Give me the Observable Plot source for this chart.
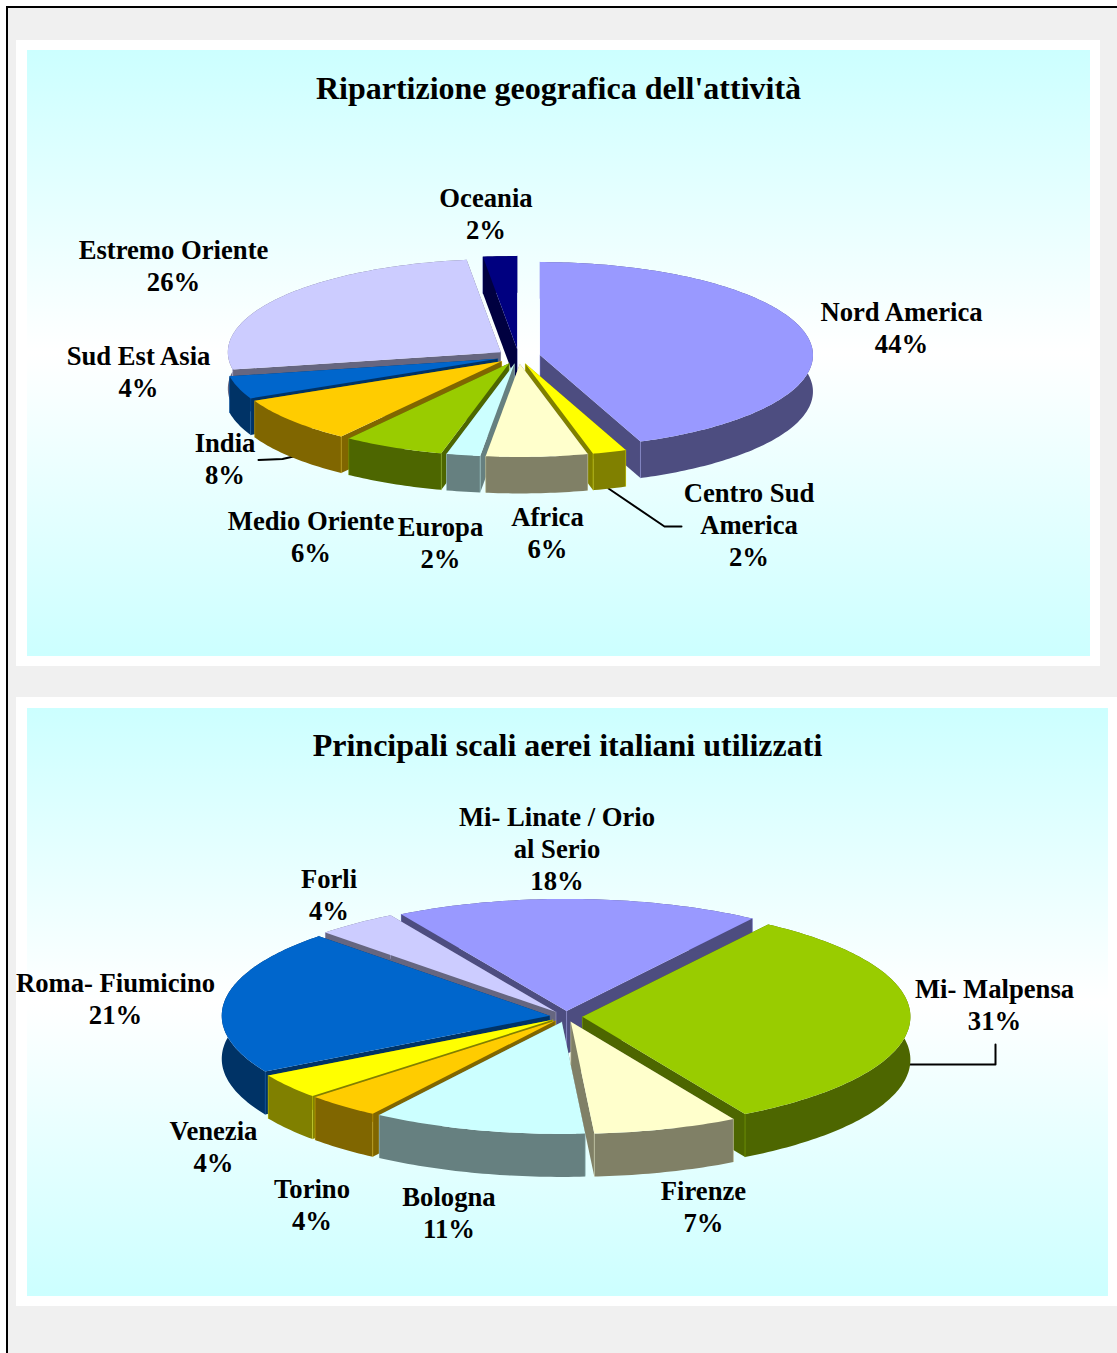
<!DOCTYPE html>
<html lang="it">
<head>
<meta charset="utf-8">
<title>Ripartizione geografica e scali aerei</title>
<script src="https://cdn.jsdelivr.net/npm/d3@7"></script>
<script src="https://cdn.jsdelivr.net/npm/@observablehq/plot@0.6"></script>
<style>
  html, body { margin: 0; padding: 0; background: #fff; overflow: hidden; }
  svg { display: block; }
</style>
</head>
<body>
<script>
// Shares in percent, clockwise around each pie.
const geoLabels = ["Nord America", "Centro Sud\nAmerica", "Africa", "Europa", "Medio Oriente", "India", "Sud Est Asia", "Estremo Oriente", "Oceania"];
const geoShares = [44, 2, 6, 2, 6, 8, 4, 26, 2];
const geoColors = ["#9999ff", "#ffff00", "#ffffcc", "#ccffff", "#99cc00", "#ffcc00", "#0066cc", "#ccccff", "#000080"];

const airportLabels = ["Mi- Linate / Orio\nal Serio", "Mi- Malpensa", "Firenze", "Bologna", "Torino", "Venezia", "Roma- Fiumicino", "Forli"];
const airportShares = [18, 31, 7, 11, 4, 4, 21, 4];
const airportColors = ["#9999ff", "#99cc00", "#ffffcc", "#ccffff", "#ffcc00", "#ffff00", "#0066cc", "#ccccff"];

// Page furniture.
const FONT = "Liberation Serif";
const LABEL_SIZE = 26.67;
const TITLE_SIZE = 32;
const frame = [{x1: 6, y1: 6, x2: 1117, y2: 1353}];
const sheet = [{x1: 8, y1: 8, x2: 1117, y2: 1353}];
const panels = [{x1: 16, y1: 40, x2: 1100, y2: 666}, {x1: 16, y1: 697, x2: 1117, y2: 1306}];
const titles = [
  {text: "Ripartizione geografica dell'attività", x: 558, y: 88},
  {text: "Principali scali aerei italiani utilizzati", x: 567, y: 745}
];

// Projection of each pie: ellipse, extrusion depth, explosion, the way the tilted
// view stretches angles towards the front, and the back-to-front painting order.
const geoLayout = {
  inner: {x1: 27, y1: 50, x2: 1090, y2: 656}, gradient: "sky1",
  cx: 518, cy: 356, rx: 273, ry: 93, depth: 36.5, explode: 0.08, start: 0,
  bend: {amount: 0, from: 0, to: 360},
  order: [8, 7, 6, 5, 4, 3, 0, 1, 2],
  labelAt: [[901, 326], [748.5, 523], [547, 531], [440, 541], [310.5, 535], [224.5, 457.5], [138, 370], [173, 264], [485.5, 212]]
};
const airportLayout = {
  inner: {x1: 27, y1: 708, x2: 1108, y2: 1296}, gradient: "sky2",
  cx: 565.5, cy: 1016, rx: 328, ry: 112, depth: 43, explode: 0.05, start: -30.3,
  bend: {amount: 4.6, from: 90, to: 245},
  order: [0, 7, 6, 5, 4, 3, 1, 2],
  labelAt: [[556.5, 847], [994, 1003.5], [703, 1205], [448.5, 1211], [311.5, 1203], [213, 1145], [115, 997], [328.5, 893]]
};

// Leader lines from a label to its slice.
const leaders = [
  [[258, 459.5], [282, 458.5], [293, 456]],
  [[608, 488], [664, 526], [681, 526]],
  [[908, 1064], [995, 1064], [995, 1044]]
];

const rad = (deg) => deg * Math.PI / 180;

// Apparent angle of a pie angle in the tilted view.
function viewAngle(layout, deg) {
  const {amount, from, to} = layout.bend;
  const t = (deg - from) / (to - from);
  return t > 0 && t < 1 ? deg + amount * Math.sin(Math.PI * t) : deg;
}

// Builds the faces of one exploded slice in the page's coordinates.
function sliceFaces(layout, a0, a1) {
  const {cx, cy, rx, ry, depth, explode} = layout;
  const mid = rad((a0 + a1) / 2);
  const ax = cx + explode * rx * Math.sin(mid);
  const ay = cy - explode * ry * Math.cos(mid);
  const rim = (deg, drop = 0) => ({x: ax + rx * Math.sin(rad(deg)), y: ay - ry * Math.cos(rad(deg)) + drop});
  const steps = d3.range(a0, a1, 1).concat(a1);
  const arc = steps.map((d) => rim(d));
  const apex = {x: ax, y: ay};
  const apexLow = {x: ax, y: ay + depth};
  const closed = (pts) => pts.concat(pts[0]);
  return {
    cuts: [
      closed([apex, rim(a0), rim(a0, depth), apexLow]),
      closed([apex, rim(a1), rim(a1, depth), apexLow])
    ],
    wall: closed(arc.concat(steps.slice().reverse().map((d) => rim(d, depth)))),
    corners: [[rim(a0), rim(a0, depth)], [rim(a1), rim(a1, depth)], [apex, apexLow]],
    top: closed([apex, ...arc])
  };
}

// Half-intensity shade used for the sides of a slice.
function shade(color) {
  const c = d3.rgb(color);
  return d3.rgb(c.r / 2, c.g / 2, c.b / 2).formatHex();
}

// Marks for a whole pie, painted from the back slice to the front one.
function pieMarks(layout, shares, colors) {
  const total = d3.sum(shares);
  const edges = d3.cumsum(shares).map((d) => viewAngle(layout, layout.start + d / total * 360));
  const marks = [];
  const face = (pts, fill) => Plot.line(pts, {x: "x", y: "y", fill, stroke: "none"});
  for (const i of layout.order) {
    const a0 = i === 0 ? layout.start : edges[i - 1];
    const faces = sliceFaces(layout, a0, edges[i]);
    const side = shade(colors[i]);
    for (const cut of faces.cuts) marks.push(face(cut, side));
    marks.push(face(faces.wall, side));
    for (const corner of faces.corners) {
      marks.push(Plot.line(corner, {x: "x", y: "y", stroke: colors[i], strokeOpacity: 0.45, strokeWidth: 0.8}));
    }
    marks.push(face(faces.top, colors[i]));
  }
  return marks;
}

function labelMarks(layout, labels, shares) {
  const rows = labels.map((label, i) => ({
    text: `${label}\n${shares[i]}%`,
    x: layout.labelAt[i][0],
    y: layout.labelAt[i][1]
  }));
  return Plot.text(rows, {
    x: "x", y: "y", text: "text", fill: "#000", fontFamily: FONT, fontWeight: "bold",
    fontSize: LABEL_SIZE, lineHeight: 32 / LABEL_SIZE, textAnchor: "middle", lineAnchor: "middle"
  });
}

// Vertical cyan-white-cyan wash behind each pie.
function gradientDefs() {
  const defs = d3.create("svg:defs");
  for (const id of ["sky1", "sky2"]) {
    const g = defs.append("linearGradient").attr("id", id)
      .attr("x1", 0).attr("y1", 0).attr("x2", 0).attr("y2", 1);
    g.append("stop").attr("offset", "0%").attr("stop-color", "#ccffff");
    g.append("stop").attr("offset", "50%").attr("stop-color", "#ffffff");
    g.append("stop").attr("offset", "100%").attr("stop-color", "#ccffff");
  }
  return defs.node();
}

const box = {x1: "x1", y1: "y1", x2: "x2", y2: "y2"};

const chart = Plot.plot({
  width: 1117,
  height: 1353,
  margin: 0,
  x: {domain: [0, 1117], axis: null},
  y: {domain: [1353, 0], axis: null},
  style: {background: "#fff"},
  marks: [
    gradientDefs,
    Plot.rect(frame, {...box, fill: "#000"}),
    Plot.rect(sheet, {...box, fill: "#f0f0f0"}),
    Plot.rect(panels, {...box, fill: "#fff"}),
    Plot.rect([geoLayout.inner], {...box, fill: `url(#${geoLayout.gradient})`}),
    Plot.rect([airportLayout.inner], {...box, fill: `url(#${airportLayout.gradient})`}),
    ...leaders.map((pts) => Plot.line(pts, {x: "0", y: "1", stroke: "#000", strokeWidth: 2})),
    ...pieMarks(geoLayout, geoShares, geoColors),
    ...pieMarks(airportLayout, airportShares, airportColors),
    labelMarks(geoLayout, geoLabels, geoShares),
    labelMarks(airportLayout, airportLabels, airportShares),
    Plot.text(titles, {
      x: "x", y: "y", text: "text", fill: "#000", fontFamily: FONT, fontWeight: "bold",
      fontSize: TITLE_SIZE, textAnchor: "middle", lineAnchor: "middle"
    })
  ]
});

document.body.append(chart);
</script>
</body>
</html>
